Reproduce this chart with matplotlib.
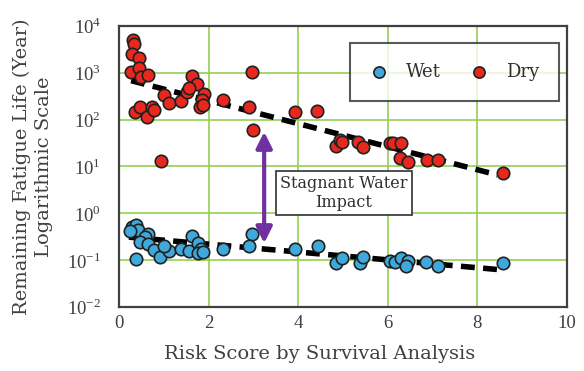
import numpy as np
import matplotlib
matplotlib.use("Agg")
import matplotlib.pyplot as plt

plt.rcParams['font.family'] = ['DejaVu Serif']
plt.rcParams['mathtext.fontset'] = 'custom'
plt.rcParams['mathtext.rm'] = 'Liberation Serif'

# Dry condition: risk score vs remaining fatigue life (years)
dry_x = [0.32, 0.34, 0.30, 0.45, 0.27, 0.45, 0.49, 0.65, 0.36, 0.47, 0.62, 0.74,
         0.79, 0.94, 1.01, 1.12, 1.38, 1.51, 1.64, 1.75, 1.56, 1.90, 1.86, 1.81,
         1.88, 2.31, 2.96, 2.91, 2.98, 3.93, 4.43, 4.84, 4.93, 4.97, 5.34, 5.45,
         6.05, 6.12, 6.29, 6.27, 6.44, 6.88, 7.11, 8.58]
dry_log = [3.70, 3.61, 3.40, 3.31, 3.02, 3.11, 2.92, 2.95, 2.17, 2.28, 2.06, 2.28,
           2.21, 1.12, 2.53, 2.35, 2.40, 2.60, 2.94, 2.76, 2.67, 2.54, 2.42, 2.28,
           2.32, 2.42, 3.02, 2.28, 1.78, 2.16, 2.19, 1.44, 1.57, 1.53, 1.53, 1.42,
           1.50, 1.50, 1.50, 1.18, 1.10, 1.14, 1.14, 0.87]
dry_y = [10 ** v for v in dry_log]

# Wet condition
wet_x = [0.28, 0.37, 0.43, 0.25, 0.65, 0.58, 0.47, 0.64, 0.38, 0.77, 0.92, 1.12,
         1.01, 1.38, 1.56, 1.64, 1.76, 1.83, 1.77, 1.87, 2.31, 2.96, 2.91, 3.93,
         4.45, 4.84, 4.97, 5.38, 5.45, 6.05, 6.16, 6.29, 6.46, 6.41, 6.85, 7.11,
         8.58]
wet_log = [-0.29, -0.25, -0.36, -0.37, -0.44, -0.50, -0.61, -0.66, -0.98, -0.78,
           -0.93, -0.80, -0.70, -0.77, -0.80, -0.48, -0.64, -0.77, -0.85, -0.82,
           -0.77, -0.44, -0.70, -0.77, -0.70, -1.05, -0.96, -1.05, -0.93, -1.01,
           -1.03, -0.96, -1.01, -1.12, -1.03, -1.12, -1.05]
wet_y = [10 ** v for v in wet_log]

# trend lines (end points)
dry_trend_x = [0.27, 8.45]
dry_trend_y = [680, 6.6]
wet_trend_x = [0.22, 8.55]
wet_trend_y = [0.31, 0.062]

x_ticks = [0, 2, 4, 6, 8, 10]
y_exps = [-2, -1, 0, 1, 2, 3, 4]

fig = plt.figure(figsize=(5.84, 3.71), dpi=100)
ax = fig.add_axes([0.2038, 0.1725, 0.7671, 0.7575])

ax.set_yscale('log')
ax.set_xlim(0, 10)
ax.set_ylim(1e-2, 1e4)
ax.set_xticks(x_ticks)
ax.set_yticks([10.0 ** e for e in y_exps])
ax.set_yticklabels([r'$10^{%d}$' % e for e in y_exps])
ax.yaxis.set_minor_locator(matplotlib.ticker.NullLocator())
ax.tick_params(length=0, labelsize=13.5, colors='#404040')
ax.tick_params(axis='y', pad=13)
ax.tick_params(axis='x', pad=6)
for lbl in ax.get_xticklabels() + ax.get_yticklabels():
    lbl.set_family('Liberation Serif')
ax.grid(True, color='#92d050', linewidth=1.2)
ax.set_axisbelow(True)
for s in ax.spines.values():
    s.set_color('#404040')
    s.set_linewidth(1.6)

ax.plot(dry_trend_x, dry_trend_y, color='black', linewidth=4, dashes=(2.5, 1.5), zorder=2)
ax.plot(wet_trend_x, wet_trend_y, color='black', linewidth=4, dashes=(2.5, 1.5), zorder=2)

ax.scatter(wet_x, wet_y, s=80, color='#3fa9dc', edgecolor='#202020', linewidth=1.2,
           label='Wet', zorder=3)
ax.scatter(dry_x, dry_y, s=80, color='#e8281e', edgecolor='#202020', linewidth=1.2,
           label='Dry', zorder=3)

leg = ax.legend(loc='upper right', ncol=2, fontsize=13, frameon=True, fancybox=False,
                edgecolor='#303030', bbox_to_anchor=(0.982, 0.9395), borderpad=1.1,
                borderaxespad=0, handlelength=1.0, handletextpad=1.0,
                columnspacing=1.6, markerscale=0.9)
leg.get_frame().set_linewidth(1.5)
for t in leg.get_texts():
    t.set_color('#303030')

ax.annotate('', xy=(3.24, 0.23), xytext=(3.24, 55),
            arrowprops=dict(arrowstyle='<|-|>', color='#7030a0', lw=3,
                            mutation_scale=24, shrinkA=0, shrinkB=0))
ax.text(5.02, 2.7, 'Stagnant Water\nImpact', ha='center', va='center', fontsize=11.5,
        color='#303030', linespacing=1.15,
        bbox=dict(boxstyle='square,pad=0.25', facecolor='white', edgecolor='#303030',
                  linewidth=1.2), zorder=4)

ax.set_xlabel('Risk Score by Survival Analysis', fontsize=14, color='#404040')
ax.xaxis.set_label_coords(0.447, -0.135)
ax.set_ylabel('Remaining Fatigue Life (Year)\nLogarithmic Scale', fontsize=14,
              color='#404040', labelpad=10, linespacing=1.25)

fig.savefig('out.png', dpi=100)
